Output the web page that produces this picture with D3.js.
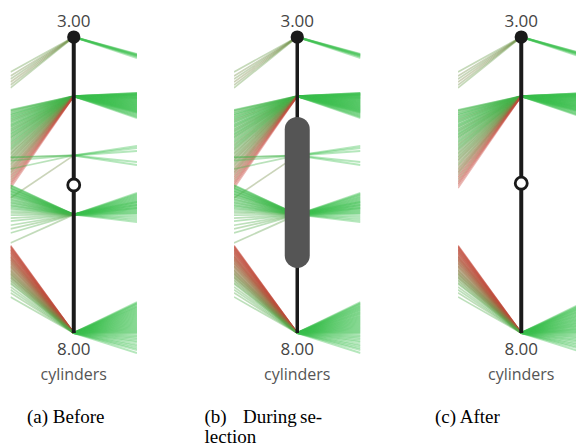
<!DOCTYPE html>
<html><head><meta charset="utf-8">
<script src="https://cdn.jsdelivr.net/npm/d3@7"></script>
<style>body{margin:0;background:#fff} svg{display:block}</style>
</head><body>
<svg id="chart" width="576" height="448"></svg>
<script>
// ---- data ----
const dims = ["mpg", "cylinders", "horsepower"];
const cylTicks = [3, 8];
const afterKept = [3, 4, 8];
const brushExtent = [4.35, 6.9];
const handleBefore = 5.5;
const handleAfter = 5.47;
const captionA = ["(a) Before"];
const captionB = [["(b)", "During", "se-"], ["lection"]];
const captionC = ["(c) After"];

const mpg3 = [44.1, 43.4, 42.9, 42.4, 41.9, 41.4];
const tone3 = [0.7, 0.6, 0.65, 0.55, 0.6, 0.7];
const hp3 = [51.5, 51.8, 52.2, 52.5, 52.8, 53.4, 54.2];

const mpg4 = [37.7, 37.6, 37.5, 37.3, 37.2, 37.0, 36.9, 36.8, 36.6, 36.5, 36.3, 36.2, 36.0, 35.9, 35.7, 35.6, 35.4, 35.2, 35.1, 34.9, 34.8, 34.6, 34.4, 34.3, 34.1, 34.0, 33.8, 33.6, 33.5, 33.3, 33.1, 33.0, 32.8, 32.6, 32.4, 32.2, 32.0, 31.8, 31.6, 31.4, 31.2, 31.0, 30.8, 30.5, 30.3, 30.1, 29.8, 29.6, 29.3, 29.1, 28.8, 28.5, 28.3, 28.0, 27.7, 27.5, 27.2, 27.0, 26.7, 26.4, 26.1, 25.8, 25.5, 25.2, 24.9, 24.5];
const tone4 = [1, 0.9, 0.95, 0.85, 1, 0.9, 0.95, 1, 0.85, 0.9,
  1, 0.95, 0.9, 0.8, 1, 0.9, 0.95, 0.85, 1, 0.9,
  0.95, 0.8, 1, 0.9, 0.75, 0.95, 0.85, 1, 0.9, 0.8,
  0.95, 0.85, 0.9, 0.75, 1, 0.8, 0.9, 0.7, 0.85, 0.9,
  0.85, 0.7, 0.9, 0.6, 0.85, 0.55, 0.9, 0.5, 0.8, 0.45,
  0.75, 0.4, 0.8, 0.3, 0.7, 0.25, 0.6, 0.2, 0.5, 0.15,
  0.1, 0.4, 0.05, 0.1, 0, 0];
const hp4 = [77.8, 77.8, 78.1, 78.3, 78.5, 78.8, 79.0, 79.2, 79.4, 79.7, 79.9, 80.2, 80.5, 80.8, 81.0, 81.2, 81.5, 81.9, 82.2, 82.6, 82.9, 83.2, 83.6, 83.9, 84.2, 84.6, 84.9, 85.3, 85.6, 85.9, 86.3, 86.6, 87.0, 87.3, 87.7, 88.0, 88.3, 88.6, 89.0, 89.3, 89.7, 90.0, 90.4, 90.7, 91.1, 91.4, 92.0, 92.7, 93.4, 94.1, 94.7];

const mpg5 = [29.7, 29.6, 29.1, 27.7, 22.8];
const tone5 = [0.95, 0.9, 0.95, 0.9, 0.6];
const hp5 = [113.6, 115.0, 117.0, 124.5, 126.5];

const mpg6 = [25.0, 24.9, 24.8, 24.6, 24.5, 24.4, 24.3, 24.1, 24.0, 23.9, 23.8, 23.6, 23.5, 23.4, 23.3, 23.1, 23.0, 22.8, 22.6, 22.5, 22.3, 22.1, 22.0, 21.8, 21.6, 21.5, 21.3, 21.1, 20.9, 20.6, 20.3, 19.9, 19.4, 18.9, 18.2, 17.6, 16.9, 15.2];
const tone6 = [1, 0.95, 1, 0.9, 1, 0.95, 1, 0.9, 1, 0.95,
  1, 0.9, 1, 0.95, 1, 0.9, 0.95, 1, 0.9, 0.95,
  1, 0.9, 0.95, 1, 0.9, 0.95, 1, 0.9, 0.95, 0.9,
  0.85, 0.9, 0.85, 0.9, 0.85, 0.8, 0.85, 0.75];
const hp6 = [145.4, 146.1, 146.7, 147.4, 148.1, 148.8, 149.5, 150.1, 150.8, 151.5, 151.5, 152.2, 152.8, 153.5, 153.5, 154.2, 154.9, 155.5, 155.5, 156.2, 156.9, 157.6, 158.2, 158.9, 159.6, 160.9, 162.3, 163.6, 165.0];

const mpg8 = [14.8, 14.7, 14.6, 14.5, 14.4, 14.2, 14.1, 14.0, 13.9, 13.7, 13.6, 13.5, 13.3, 13.2, 13.0, 12.9, 12.8, 12.7, 12.5, 12.4, 12.3, 12.1, 12.0, 11.8, 11.7, 11.5, 11.3, 11.2, 11.0, 10.8, 10.6, 10.5, 10.3, 10.1, 10.0, 9.8, 9.6, 9.4, 9.3, 9.0, 8.8, 8.5, 8.3, 7.8, 7.3, 6.8, 6.1];
const tone8 = [0, 0.05, 0, 0.1, 0.05, 0, 0.1, 0.05, 0.15, 0,
  0.1, 0.05, 0.15, 0.1, 0.2, 0.1, 0.15, 0.2, 0.1, 0.25,
  0.2, 0.25, 0.3, 0.2, 0.3, 0.35, 0.3, 0.4, 0.35, 0.45,
  0.4, 0.5, 0.45, 0.55, 0.5, 0.6, 0.55, 0.65, 0.6, 0.7,
  0.7, 0.75, 0.8, 0.8, 0.85, 0.8, 0.85];
const hp8 = [219.1, 219.8, 220.4, 221.1, 221.8, 222.4, 223.1, 223.8, 224.4, 225.1, 225.8, 226.5, 227.1, 227.8, 228.5, 229.2, 229.8, 230.5, 231.2, 231.9, 232.5, 233.2, 233.9, 234.6, 235.2, 235.9, 236.6, 237.3, 237.9, 238.6, 239.3, 240.0, 241.0, 242.0, 243.0, 244.0, 245.2, 246.3, 247.7, 249.0, 250.3, 251.5, 253.5];

// ---- build records ----
const groups = [
  {cyl: 3, mpg: mpg3, tone: tone3, hp: hp3},
  {cyl: 4, mpg: mpg4, tone: tone4, hp: hp4},
  {cyl: 5, mpg: mpg5, tone: tone5, hp: hp5},
  {cyl: 6, mpg: mpg6, tone: tone6, hp: hp6},
  {cyl: 8, mpg: mpg8, tone: tone8, hp: hp8}
];
const leftSegs = [], rightSegs = [];
groups.forEach(g => {
  g.mpg.forEach((m, i) => leftSegs.push({cyl: g.cyl, mpg: m, tone: g.tone[i]}));
  g.hp.forEach(h => rightSegs.push({cyl: g.cyl, hp: h}));
});

// ---- scales ----
const yCyl = d3.scaleLinear().domain([3, 8]).range([37, 333]);
const yMpg = d3.scaleLinear().domain([0, 50]).range([333, 37]);
const yHp = d3.scaleLinear().domain([40, 240]).range([37, 333]);
const color = d3.scaleLinear().domain([0, 1]).range(["#c9453b", "#3cbf4e"]).interpolate(d3.interpolateRgb);
const green = color(1);

const svg = d3.select("#chart");
const defs = svg.append("defs");
const line = d3.line();

const panels = [
  {key: "a", ax: 74, mode: "before", axisW: 4},
  {key: "b", ax: 297.5, mode: "during", axisW: 3.5},
  {key: "c", ax: 521.5, mode: "after", axisW: 4}
];

panels.forEach(p => {
  const x = d3.scalePoint().domain(dims).range([p.ax - 63.5, p.ax + 63]);
  defs.append("clipPath").attr("id", "clip-" + p.key)
    .append("rect").attr("x", x("mpg")).attr("y", 0)
    .attr("width", x("horsepower") - x("mpg")).attr("height", 448);
  const g = svg.append("g");
  const lines = g.append("g").attr("clip-path", `url(#clip-${p.key})`)
    .attr("fill", "none").attr("stroke-opacity", 0.38);
  const keep = d => p.mode !== "after" || afterKept.includes(d.cyl);

  lines.selectAll(".l").data(leftSegs.filter(keep)).join("path")
    .attr("d", d => line([[x("mpg"), yMpg(d.mpg)], [x("cylinders"), yCyl(d.cyl)]]))
    .attr("stroke-width", 1.7)
    .attr("stroke", d => color(d.tone));
  lines.selectAll(".r").data(rightSegs.filter(keep)).join("path")
    .attr("d", d => line([[x("cylinders"), yCyl(d.cyl)], [x("horsepower"), yHp(d.hp)]]))
    .attr("stroke-width", 2)
    .attr("stroke", green);

  const cx = x("cylinders");
  g.append("line").attr("x1", cx).attr("x2", cx)
    .attr("y1", yCyl(cylTicks[0])).attr("y2", yCyl(cylTicks[1]))
    .attr("stroke", "#1a1a1a").attr("stroke-width", p.axisW);
  g.append("circle").attr("cx", cx).attr("cy", yCyl(cylTicks[0])).attr("r", 6.6).attr("fill", "#1a1a1a");

  if (p.mode === "during") {
    const y0 = yCyl(brushExtent[0]), y1 = yCyl(brushExtent[1]);
    g.append("rect").attr("x", cx - 12.5).attr("width", 25)
      .attr("y", y0).attr("height", y1 - y0).attr("rx", 12.5).attr("ry", 12.5)
      .attr("fill", "#555555");
  } else {
    const hv = p.mode === "before" ? handleBefore : handleAfter;
    g.append("circle").attr("cx", cx).attr("cy", yCyl(hv)).attr("r", 6)
      .attr("fill", "#fff").attr("stroke", "#1a1a1a").attr("stroke-width", 2.8);
  }

  const fmt = d3.format(".2f");
  g.append("text").attr("x", cx).attr("y", yCyl(cylTicks[0]) - 10)
    .attr("text-anchor", "middle").attr("font-family", "Open Sans").attr("font-size", 17)
    .attr("fill", "#444").text(fmt(cylTicks[0]));
  g.append("text").attr("x", cx).attr("y", yCyl(cylTicks[1]) + 22)
    .attr("text-anchor", "middle").attr("font-family", "Open Sans").attr("font-size", 17)
    .attr("fill", "#444").text(fmt(cylTicks[1]));
  g.append("text").attr("x", cx).attr("y", 380)
    .attr("text-anchor", "middle").attr("font-family", "Open Sans").attr("font-size", 16)
    .attr("fill", "#555").text(dims[1]);
});

// ---- captions ----
const cap = svg.append("g").attr("font-family", "Liberation Serif, Times New Roman, serif")
  .attr("font-size", 19).attr("fill", "#000");
cap.append("text").attr("x", 27).attr("y", 423).text(captionA[0]);
const bx = [204.5, 243, 300];
captionB[0].forEach((w, i) => cap.append("text").attr("x", bx[i]).attr("y", 423).text(w));
cap.append("text").attr("x", 204.5).attr("y", 443).text(captionB[1][0]);
cap.append("text").attr("x", 435).attr("y", 423).text(captionC[0]);
</script>
</body></html>
